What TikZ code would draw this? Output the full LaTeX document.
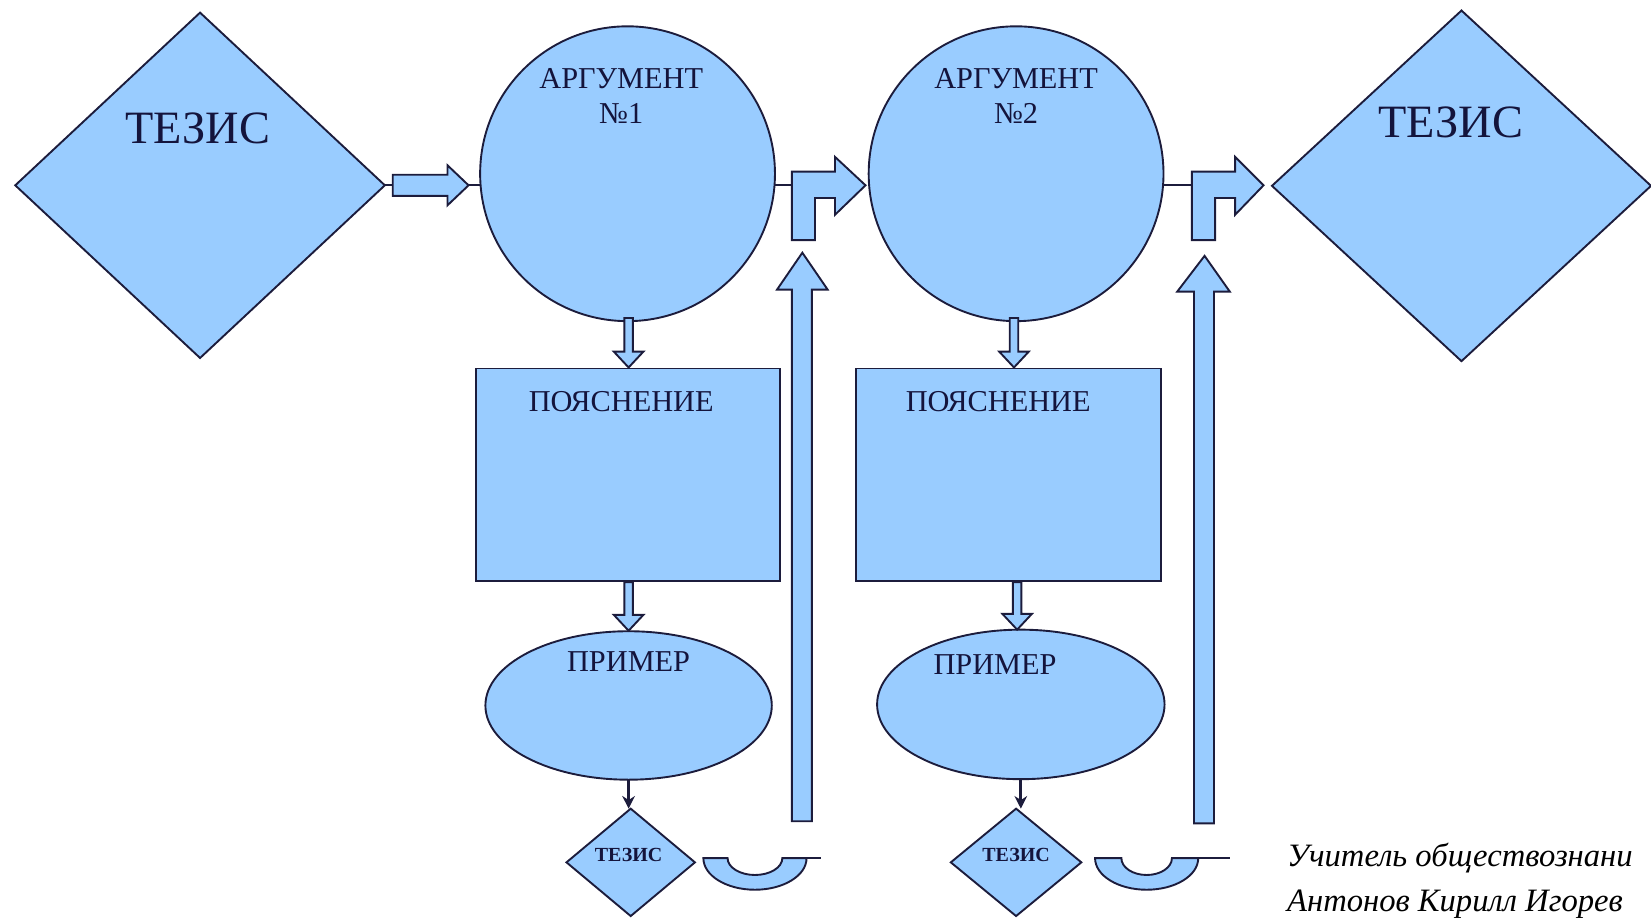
\documentclass[tikz,border=0pt]{standalone}
\usepackage{fontspec}
\setmainfont{Liberation Serif}
\usetikzlibrary{shapes.geometric,arrows.meta}
\definecolor{fillb}{HTML}{99CCFF}
\definecolor{edgec}{HTML}{1C1C3C}
\definecolor{txtc}{HTML}{14143C}
\newcommand{\dblk}[3]{\draw[blockarrow] (#1-4,-#2) -- (#1+4,-#2) -- (#1+4,-#3+15) -- (#1+14,-#3+15) -- (#1,-#3) -- (#1-14,-#3+15) -- (#1-4,-#3+15) -- cycle;}
\begin{document}
\begin{tikzpicture}[x=0.5pt,y=0.5pt,
  shp/.style={draw=edgec,fill=fillb,line width=0.9pt,inner sep=0pt,outer sep=0pt},
  lbl/.style={text=txtc,inner sep=0pt,align=center},
  biglbl/.style={lbl,font=\fontsize{22}{24}\selectfont},
  midlbl/.style={lbl,font=\fontsize{14.4}{16.5}\selectfont},
  smalllbl/.style={lbl,font=\bfseries\fontsize{9.5}{11}\selectfont},
  conn/.style={draw=edgec,line width=0.9pt},
  thinarrow/.style={draw=edgec,line width=1.4pt,-{Stealth[length=6pt,width=6pt]}},
  blockarrow/.style={draw=edgec,fill=fillb,line width=0.9pt,line join=miter},
  sig/.style={anchor=base west,inner sep=0pt,text=black,font=\itshape\fontsize{15.5}{18}\selectfont}]
\useasboundingbox (0,0) rectangle (1568,-871);

% main shapes
\node[shp,diamond,minimum width=175.5pt,minimum height=164pt] (thL) at (190,-176) {};
\node[shp,diamond,minimum width=180pt,minimum height=166.5pt] (thR) at (1388,-176.5) {};
\node[shp,circle,minimum size=140pt] (a1) at (596,-165) {};
\node[shp,circle,minimum size=140pt] (a2) at (965,-165) {};
\node[shp,rectangle,minimum width=144.5pt,minimum height=101pt] (p1) at (596.5,-451) {};
\node[shp,rectangle,minimum width=145pt,minimum height=101pt] (p2) at (958,-451) {};
\node[shp,ellipse,minimum width=136pt,minimum height=70.5pt] (e1) at (597,-670) {};
\node[shp,ellipse,minimum width=136.5pt,minimum height=71pt] (e2) at (969.5,-669) {};
\node[shp,diamond,minimum width=61pt,minimum height=51pt] (d1) at (599,-819) {};
\node[shp,diamond,minimum width=62pt,minimum height=51pt] (d2) at (965,-819) {};

% labels
\node[biglbl] (tL) at (188,-122) {ТЕЗИС};
\node[biglbl] (tR) at (1378,-116) {ТЕЗИС};
\node[midlbl] (ta1) at (590,-91) {АРГУМЕНТ\\№1};
\node[midlbl] (ta2) at (965,-91) {АРГУМЕНТ\\№2};
\node[midlbl] (tp1) at (590,-381) {ПОЯСНЕНИЕ};
\node[midlbl] (tp2) at (948,-381) {ПОЯСНЕНИЕ};
\node[midlbl] (te1) at (597,-628) {ПРИМЕР};
\node[midlbl] (te2) at (945,-631) {ПРИМЕР};
\node[smalllbl] (td1) at (597,-812) {ТЕЗИС};
\node[smalllbl] (td2) at (965,-812) {ТЕЗИС};

% thesis -> argument 1 block arrow
\coordinate (h0) at (373,-176);
\coordinate (h1) at (445,-176);
\draw[conn] (thL.east) -- (h0);
\draw[blockarrow] (373,-166) -- (425,-166) -- (425,-157) -- (h1) -- (425,-195) -- (425,-186) -- (373,-186) -- cycle;
\draw[conn] (h1) -- (a1.west |- h1);

% bent arrows
\coordinate (b1) at (752,-176);
\draw[conn] (a1.east |- b1) -- (b1);
\draw[blockarrow] (752,-228) -- (752,-163) -- (793,-163) -- (793,-149) -- (822,-176) -- (793,-204) -- (793,-188) -- (774,-188) -- (774,-228) -- cycle;
\coordinate (b2) at (1132,-176);
\draw[conn] (a2.east |- b2) -- (b2);
\draw[blockarrow] (1132,-228) -- (1132,-163) -- (1173,-163) -- (1173,-149) -- (1200,-176) -- (1173,-204) -- (1173,-188) -- (1154,-188) -- (1154,-228) -- cycle;

% long up arrows
\draw[blockarrow] (752,-780) -- (752,-275) -- (738,-275) -- (762,-240) -- (786,-275) -- (771,-275) -- (771,-780) -- cycle;
\draw[blockarrow] (1134,-782) -- (1134,-277) -- (1118,-277) -- (1144,-243) -- (1168,-277) -- (1153,-277) -- (1153,-782) -- cycle;

% small down block arrows
\dblk{597}{302}{349}
\dblk{597}{553}{599}
\dblk{963}{302}{349}
\dblk{966}{553}{598}

% thin arrows example -> thesis
\draw[thinarrow] (e1.south) -- (e1.south |- d1.north);
\draw[thinarrow] (e2.south) -- (e2.south |- d2.north);

% U-turn shapes
\draw[blockarrow] (668,-815) -- (691,-815) arc[start angle=180,end angle=360,x radius=13pt,y radius=8pt] -- (766,-815) arc[start angle=0,end angle=-180,x radius=24.5pt,y radius=15pt] -- cycle;
\draw[conn] (743,-815) -- (780,-815);
\draw[blockarrow] (1040,-815) -- (1065,-815) arc[start angle=180,end angle=360,x radius=12pt,y radius=8pt] -- (1138,-815) arc[start angle=0,end angle=-180,x radius=24.5pt,y radius=15pt] -- cycle;
\draw[conn] (1113,-815) -- (1168,-815);

% signature
\node[sig] (s1) at (1222,-823) {Учитель обществознани};
\node[sig] (s2) at (1222,-866) {Антонов Кирилл Игорев};
\end{tikzpicture}
\end{document}
